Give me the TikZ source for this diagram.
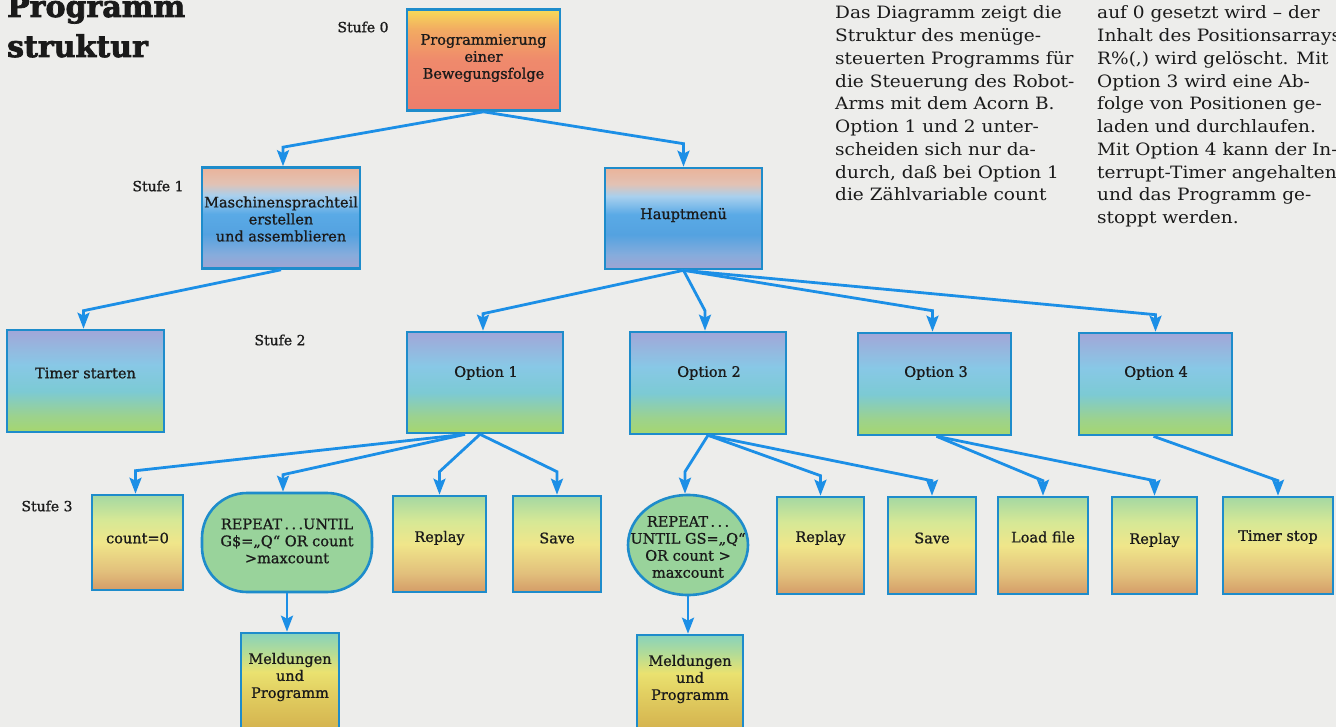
\documentclass[tikz,border=0pt]{standalone}
\usepackage{fontspec}
\setmainfont{DejaVu Serif}
\newfontfamily\captionfam[FakeBold=1.0]{DejaVu Serif}
\newfontfamily\essayfam[FakeStretch=1.09]{DejaVu Serif}
\newfontfamily\headfam[FakeBold=2.5]{DejaVu Serif Bold}
\usetikzlibrary{arrows.meta,shapes.geometric}

% palette
\definecolor{paper}{HTML}{EDEDEB}
\definecolor{linkblue}{HTML}{1C8FE6}
\definecolor{frameblue}{HTML}{1E8CCB}
\definecolor{ink}{HTML}{1A1A1A}
\definecolor{repfill}{HTML}{99D39B}

% level 0: yellow into salmon
\definecolor{rA}{HTML}{EC7D6C}\definecolor{rB}{HTML}{EF8A6C}
\definecolor{rC}{HTML}{F2AA62}\definecolor{rD}{HTML}{F6DB58}
\pgfdeclareverticalshading{rootshade}{100bp}{color(0bp)=(rA); color(25bp)=(rA); color(50bp)=(rB); color(65bp)=(rC); color(75bp)=(rD); color(100bp)=(rD)}

% level 1: peach, blue, lilac
\definecolor{mA}{HTML}{A0A4D2}\definecolor{mB}{HTML}{86ACDC}
\definecolor{mC}{HTML}{54A2E0}\definecolor{mD}{HTML}{5AAAE6}
\definecolor{mE}{HTML}{A8D0EE}\definecolor{mF}{HTML}{E2C2B4}
\definecolor{mG}{HTML}{EAB39A}
\pgfdeclareverticalshading{menushade}{100bp}{color(0bp)=(mA); color(25bp)=(mA); color(32bp)=(mB); color(42bp)=(mC); color(52bp)=(mD); color(61bp)=(mE); color(67bp)=(mF); color(75bp)=(mG); color(100bp)=(mG)}

% level 2: lilac, cyan, green
\definecolor{oA}{HTML}{A6D66E}\definecolor{oB}{HTML}{9CD28E}
\definecolor{oC}{HTML}{7CCAD4}\definecolor{oD}{HTML}{88C8E6}
\definecolor{oE}{HTML}{A2A6D8}
\pgfdeclareverticalshading{optshade}{100bp}{color(0bp)=(oA); color(25bp)=(oA); color(33bp)=(oB); color(45bp)=(oC); color(58bp)=(oD); color(75bp)=(oE); color(100bp)=(oE)}

% level 3: green, yellow, tan
\definecolor{sA}{HTML}{D49C68}\definecolor{sB}{HTML}{E2C07C}
\definecolor{sC}{HTML}{F0E68A}\definecolor{sD}{HTML}{D6E896}
\definecolor{sE}{HTML}{A4D8A2}
\pgfdeclareverticalshading{leafshade}{100bp}{color(0bp)=(sA); color(25bp)=(sA); color(35bp)=(sB); color(50bp)=(sC); color(62bp)=(sD); color(75bp)=(sE); color(100bp)=(sE)}

% message boxes
\definecolor{gA}{HTML}{D4B24E}\definecolor{gB}{HTML}{E2D062}
\definecolor{gC}{HTML}{EAE270}\definecolor{gD}{HTML}{B4DC96}
\definecolor{gE}{HTML}{88D2BC}
\pgfdeclareverticalshading{msgshade}{100bp}{color(0bp)=(gA); color(25bp)=(gA); color(45bp)=(gB); color(55bp)=(gC); color(65bp)=(gD); color(75bp)=(gE); color(100bp)=(gE)}

\newcommand{\diagfont}{\captionfam\fontsize{14.5}{17}\selectfont}
\newcommand{\stufefont}{\captionfam\fontsize{14}{17}\selectfont}
\newcommand{\essayfont}{\essayfam\fontsize{17}{22.75}\selectfont}
\newcommand{\headfont}{\headfam\fontsize{30}{40}\selectfont}

\tikzset{
  box/.style={draw=frameblue, line width=2.6pt, inner sep=0pt, rectangle},
  caption/.style={font=\diagfont, text=ink, align=center, inner sep=0pt},
  stufe/.style={font=\stufefont, text=ink, inner sep=0pt},
  essay/.style={font=\essayfont, text=ink, inner sep=0pt, anchor=base west},
  link/.style={draw=linkblue, line width=2.8pt,
    -{Stealth[length=16pt,width=12pt,inset=3pt]}},
}

\begin{document}
\begin{tikzpicture}[x=1pt,y=1pt]
\useasboundingbox (0,-727) rectangle (1336,0);
\clip (0,-727) rectangle (1336,0);
\fill[paper] (0,-727) rectangle (1336,0);

% heading
\node (head1) [anchor=base west, font=\headfont, text=ink, inner sep=0pt] at (7,-17) {Programm};
\node (head2) [anchor=base west, font=\headfont, text=ink, inner sep=0pt] at (7,-57) {struktur};

% explanatory text, two columns
\foreach \ln [count=\i] in {{Das Diagramm zeigt die},{Struktur des menüge-},{steuerten Programms für},{die Steuerung des Robot-},{Arms mit dem Acorn B.},{Option 1 und 2 unter-},{scheiden sich nur da-},{durch, daß bei Option 1},{die Zählvariable count}}
  \node (colA-\i) [essay] at (835,{-19-22.75*(\i-1)}) {\ln};
\foreach \ln [count=\i] in {{auf 0 gesetzt wird – der},{Inhalt des Positionsarrays},{R\%(,) wird gelöscht. Mit},{Option 3 wird eine Ab-},{folge von Positionen ge-},{laden und durchlaufen.},{Mit Option 4 kann der In-},{terrupt-Timer angehalten},{und das Programm ge-},{stoppt werden.}}
  \node (colB-\i) [essay] at (1097,{-19-22.75*(\i-1)}) {\ln};

% level labels
\node (st0) [stufe] at (363,-27) {Stufe 0};
\node (st1) [stufe] at (158,-186) {Stufe 1};
\node (st2) [stufe] at (280,-340) {Stufe 2};
\node (st3) [stufe] at (47,-506) {Stufe 3};

% level 0 and 1
\node (root) [box, shading=rootshade, minimum width=153pt, minimum height=101pt] at (483.5,-60) {};
\node (root-t) [caption] at (483.5,-58) {Programmierung\\einer\\Bewegungsfolge};
\node (masch) [box, shading=menushade, minimum width=158pt, minimum height=101pt] at (281,-218) {};
\node (masch-t) [caption] at (281,-219) {Maschinensprachteil\\erstellen\\und assemblieren};
\node (haupt) [box, shading=menushade, minimum width=157pt, minimum height=101pt] at (683.5,-218.5) {};
\node (haupt-t) [caption] at (683.5,-215) {Hauptmenü};

% level 2
\node (tstart) [box, shading=optshade, minimum width=157pt, minimum height=102pt] at (85.5,-381) {};
\node (tstart-t) [caption] at (85.5,-373) {Timer starten};
\node (opt1) [box, shading=optshade, minimum width=156pt, minimum height=101pt] at (485,-382.5) {};
\node (opt1-t) [caption] at (486,-373) {Option 1};
\node (opt2) [box, shading=optshade, minimum width=156pt, minimum height=102pt] at (708,-383) {};
\node (opt2-t) [caption] at (709,-373) {Option 2};
\node (opt3) [box, shading=optshade, minimum width=153pt, minimum height=102pt] at (934.5,-384) {};
\node (opt3-t) [caption] at (936,-373) {Option 3};
\node (opt4) [box, shading=optshade, minimum width=153pt, minimum height=102pt] at (1155.5,-384) {};
\node (opt4-t) [caption] at (1156,-373) {Option 4};

% level 3
\node (cnt) [box, shading=leafshade, minimum width=91pt, minimum height=95pt] at (137.5,-542.5) {};
\node (cnt-t) [caption] at (137.5,-538) {count=0};
\node (rep1) [box, fill=repfill, rounded corners=45pt, minimum width=170pt, minimum height=99pt] at (287,-542.5) {};
\node (rep1-t) [caption] at (287,-541) {REPEAT\,.\,.\,.UNTIL\\G\$=„Q“ OR count\\>maxcount};
\node (meld1) [box, shading=msgshade, minimum width=98pt, minimum height=97pt] at (290,-681.5) {};
\node (meld1-t) [caption] at (290,-677) {Meldungen\\und\\Programm};
\node (rpl1) [box, shading=leafshade, minimum width=93pt, minimum height=96pt] at (439.5,-544) {};
\node (rpl1-t) [caption] at (439.5,-538) {Replay};
\node (sav1) [box, shading=leafshade, minimum width=88pt, minimum height=96pt] at (557,-544) {};
\node (sav1-t) [caption] at (557,-538) {Save};
\node (rep2) [box, ellipse, fill=repfill, minimum width=120pt, minimum height=100pt] at (688,-545) {};
\node (rep2-t) [caption] at (688,-547) {REPEAT\,.\,.\,.\\UNTIL GS=„Q“\\OR count >\\maxcount};
\node (meld2) [box, shading=msgshade, minimum width=106pt, minimum height=95pt] at (690,-682.5) {};
\node (meld2-t) [caption] at (690,-679) {Meldungen\\und\\Programm};
\node (rpl2) [box, shading=leafshade, minimum width=87pt, minimum height=97pt] at (820.5,-545.5) {};
\node (rpl2-t) [caption] at (820.5,-538) {Replay};
\node (sav2) [box, shading=leafshade, minimum width=88pt, minimum height=97pt] at (932,-545.5) {};
\node (sav2-t) [caption] at (932,-538) {Save};
\node (load) [box, shading=leafshade, minimum width=90pt, minimum height=97pt] at (1043,-545.5) {};
\node (load-t) [caption] at (1043,-537) {Load file};
\node (rpl3) [box, shading=leafshade, minimum width=85pt, minimum height=97pt] at (1154.5,-545.5) {};
\node (rpl3-t) [caption] at (1154.5,-540) {Replay};
\node (tstop) [box, shading=leafshade, minimum width=110pt, minimum height=97pt] at (1278,-545.5) {};
\node (tstop-t) [caption] at (1278,-537) {Timer stop};

% connectors: diagonal run, then a short drop onto the child
\draw[link] (root.south) -- ([xshift=2pt,yshift=19pt]masch.north) -- ([xshift=2pt]masch.north);
\draw[link] (root.south) -- ([yshift=23pt]haupt.north) -- (haupt.north);
\draw[link] (masch.south) -- ([xshift=-2pt,yshift=18pt]tstart.north) -- ([xshift=-2pt]tstart.north);
\draw[link] (haupt.south) -- ([xshift=-2pt,yshift=17pt]opt1.north) -- ([xshift=-2pt]opt1.north);
\draw[link] (haupt.south) -- ([xshift=-3pt,yshift=20pt]opt2.north) -- ([xshift=-3pt]opt2.north);
\draw[link] (haupt.south) -- ([xshift=-2pt,yshift=21pt]opt3.north) -- ([xshift=-2pt]opt3.north);
\draw[link] (haupt.south) -- ([yshift=17pt]opt4.north) -- (opt4.north);

\draw[link] ([xshift=-20pt]opt1.south) -- ([xshift=-2pt,yshift=23pt]cnt.north) -- ([xshift=-2pt]cnt.north);
\draw[link] ([xshift=-20pt]opt1.south) -- ([xshift=-4pt,yshift=17pt]rep1.north) -- ([xshift=-4pt]rep1.north);
\draw[link] ([xshift=-5pt]opt1.south) -- ([yshift=23pt]rpl1.north) -- (rpl1.north);
\draw[link] ([xshift=-5pt]opt1.south) -- ([yshift=23pt]sav1.north) -- (sav1.north);
\draw[link] (rep1.south) -- (rep1.south |- meld1.north);

\draw[link] (opt2.south) -- ([xshift=-3pt,yshift=22pt]rep2.north) -- ([xshift=-3pt]rep2.north);
\draw[link] (opt2.south) -- ([yshift=20pt]rpl2.north) -- (rpl2.north);
\draw[link] (opt2.south) -- ([yshift=15pt]sav2.north) -- (sav2.north);
\draw[link] (rep2.south) -- (rep2.south |- meld2.north);

\draw[link] ([xshift=2pt]opt3.south) -- ([yshift=15pt]load.north) -- (load.north);
\draw[link] ([xshift=2pt]opt3.south) -- ([yshift=15pt]rpl3.north) -- (rpl3.north);
\draw[link] ([xshift=-2pt]opt4.south) -- ([yshift=15pt]tstop.north) -- (tstop.north);
\end{tikzpicture}
\end{document}
